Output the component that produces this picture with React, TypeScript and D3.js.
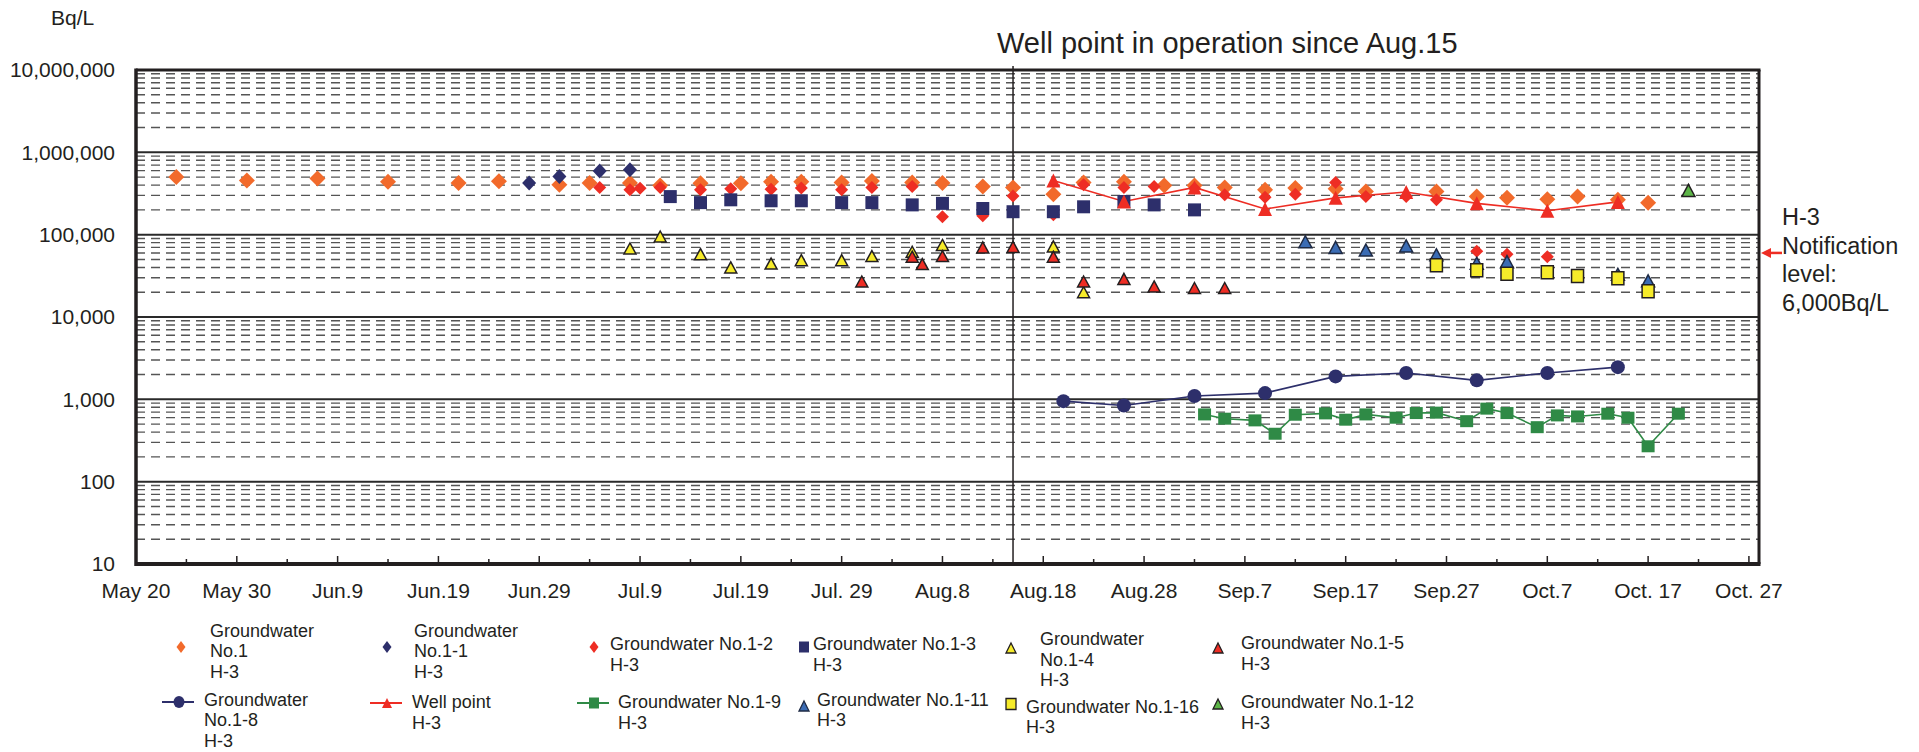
import React from "react";
import * as d3 from "d3";

type Pt = [string, number];

// Groundwater No.1 H-3 (Bq/L)
const gw1: Pt[] = [
  ["2013-05-24", 500000], ["2013-05-31", 455000], ["2013-06-07", 480000], ["2013-06-14", 440000],
  ["2013-06-21", 425000], ["2013-06-25", 445000], ["2013-07-01", 405000], ["2013-07-04", 425000],
  ["2013-07-08", 425000], ["2013-07-11", 395000], ["2013-07-15", 420000], ["2013-07-19", 420000],
  ["2013-07-22", 440000], ["2013-07-25", 440000], ["2013-07-29", 430000], ["2013-08-01", 450000],
  ["2013-08-05", 430000], ["2013-08-08", 425000], ["2013-08-12", 385000], ["2013-08-15", 375000],
  ["2013-08-19", 310000], ["2013-08-22", 430000], ["2013-08-26", 440000], ["2013-08-30", 395000],
  ["2013-09-02", 395000], ["2013-09-05", 375000], ["2013-09-09", 350000], ["2013-09-12", 370000],
  ["2013-09-16", 360000], ["2013-09-19", 335000], ["2013-09-26", 335000], ["2013-09-30", 290000],
  ["2013-10-03", 280000], ["2013-10-07", 270000], ["2013-10-10", 290000], ["2013-10-14", 265000],
  ["2013-10-17", 245000],
];
const gw1_1: Pt[] = [
  ["2013-06-28", 425000], ["2013-07-01", 510000], ["2013-07-05", 595000], ["2013-07-08", 615000],
];
const gw1_2: Pt[] = [
  ["2013-07-05", 375000], ["2013-07-08", 350000], ["2013-07-09", 365000], ["2013-07-11", 375000],
  ["2013-07-15", 350000], ["2013-07-18", 360000], ["2013-07-22", 355000], ["2013-07-25", 370000],
  ["2013-07-29", 350000], ["2013-08-01", 375000], ["2013-08-05", 385000], ["2013-08-08", 165000],
  ["2013-08-12", 170000], ["2013-08-15", 295000], ["2013-08-19", 175000], ["2013-08-22", 405000],
  ["2013-08-26", 375000], ["2013-08-29", 385000], ["2013-09-02", 365000], ["2013-09-05", 305000],
  ["2013-09-09", 285000], ["2013-09-12", 310000], ["2013-09-16", 430000], ["2013-09-19", 290000],
  ["2013-09-23", 290000], ["2013-09-26", 265000], ["2013-09-30", 63000], ["2013-10-03", 58000],
  ["2013-10-07", 54000],
];
const gw1_3: Pt[] = [
  ["2013-07-12", 290000], ["2013-07-15", 245000], ["2013-07-18", 265000], ["2013-07-22", 258000],
  ["2013-07-25", 258000], ["2013-07-29", 245000], ["2013-08-01", 245000], ["2013-08-05", 230000],
  ["2013-08-08", 240000], ["2013-08-12", 208000], ["2013-08-15", 190000], ["2013-08-19", 190000],
  ["2013-08-22", 218000], ["2013-08-26", 253000], ["2013-08-29", 230000], ["2013-09-02", 200000],
];
const gw1_4: Pt[] = [
  ["2013-07-08", 68000], ["2013-07-11", 95000], ["2013-07-15", 58000], ["2013-07-18", 40000],
  ["2013-07-22", 44500], ["2013-07-25", 49000], ["2013-07-29", 49000], ["2013-08-01", 55000],
  ["2013-08-05", 62000], ["2013-08-08", 75000], ["2013-08-19", 72000], ["2013-08-22", 20000],
];
const gw1_5: Pt[] = [
  ["2013-07-31", 27000], ["2013-08-05", 54000], ["2013-08-06", 44000], ["2013-08-08", 55000],
  ["2013-08-12", 70000], ["2013-08-15", 71000], ["2013-08-19", 54000], ["2013-08-22", 27000],
  ["2013-08-26", 29000], ["2013-08-29", 23500], ["2013-09-02", 22500], ["2013-09-05", 22500],
];
const gw1_8: Pt[] = [
  ["2013-08-20", 950], ["2013-08-26", 840], ["2013-09-02", 1100], ["2013-09-09", 1190],
  ["2013-09-16", 1900], ["2013-09-23", 2090], ["2013-09-30", 1700], ["2013-10-07", 2090],
  ["2013-10-14", 2460],
];
const wellPoint: Pt[] = [
  ["2013-08-19", 455000], ["2013-08-26", 253000], ["2013-09-02", 375000], ["2013-09-09", 205000],
  ["2013-09-16", 280000], ["2013-09-23", 330000], ["2013-09-30", 240000], ["2013-10-07", 195000],
  ["2013-10-14", 250000],
];
const gw1_9: Pt[] = [
  ["2013-09-03", 656], ["2013-09-05", 582], ["2013-09-08", 555], ["2013-09-10", 382],
  ["2013-09-12", 650], ["2013-09-15", 675], ["2013-09-17", 566], ["2013-09-19", 656],
  ["2013-09-22", 598], ["2013-09-24", 681], ["2013-09-26", 689], ["2013-09-29", 543],
  ["2013-10-01", 771], ["2013-10-03", 681], ["2013-10-06", 459], ["2013-10-08", 638],
  ["2013-10-10", 620], ["2013-10-13", 669], ["2013-10-15", 598], ["2013-10-17", 269],
  ["2013-10-20", 669],
];
const gw1_11: Pt[] = [
  ["2013-09-13", 82000], ["2013-09-16", 70000], ["2013-09-19", 65000], ["2013-09-23", 73000],
  ["2013-09-26", 57000], ["2013-09-30", 45000], ["2013-10-03", 47000], ["2013-10-14", 33000],
  ["2013-10-17", 27500],
];
const gw1_16: Pt[] = [
  ["2013-09-26", 42500], ["2013-09-30", 37000], ["2013-10-03", 33500], ["2013-10-07", 35000],
  ["2013-10-10", 31500], ["2013-10-14", 29500], ["2013-10-17", 20500],
];
const gw1_12: Pt[] = [["2013-10-21", 345000]];

const xStart = "2013-05-20";
const xEnd = "2013-10-28";
const xTickLabels = [
  "May 20", "May 30", "Jun.9", "Jun.19", "Jun.29", "Jul.9", "Jul.19", "Jul. 29", "Aug.8",
  "Aug.18", "Aug.28", "Sep.7", "Sep.17", "Sep.27", "Oct.7", "Oct. 17", "Oct. 27",
];
const yTickValues = [10, 100, 1000, 10000, 100000, 1000000, 10000000];
const yTickLabels = ["10", "100", "1,000", "10,000", "100,000", "1,000,000", "10,000,000"];
const wellStart = "2013-08-15";
const notifyLevel = 60000;

const FONT = "'Liberation Sans', Arial, Helvetica, sans-serif";
const TXT = "#231f20";

type Shape = "diamond" | "square" | "triangle" | "circle";

function markerPath(shape: Shape, w: number, h: number) {
  const a = w / 2, b = h / 2;
  if (shape === "diamond") return `M0,${-b}L${a},0L0,${b}L${-a},0Z`;
  if (shape === "square") return `M${-a},${-b}h${w}v${h}h${-w}Z`;
  if (shape === "triangle") return `M0,${-b}L${a},${b}L${-a},${b}Z`;
  return `M${-a},0a${a},${b} 0 1,0 ${w},0a${a},${b} 0 1,0 ${-w},0Z`;
}

const series = [
  { key: "gw1", data: gw1, shape: "diamond" as Shape, w: 16, h: 16, fill: "#f26a2b", stroke: "none",
    label: ["Groundwater", "No.1", "H-3"], leg: [181, 647, 210, 636.5] },
  { key: "gw1_1", data: gw1_1, shape: "diamond" as Shape, w: 14, h: 15, fill: "#2d2f6b", stroke: "none",
    label: ["Groundwater", "No.1-1", "H-3"], leg: [387, 647, 414, 636.5] },
  { key: "gw1_2", data: gw1_2, shape: "diamond" as Shape, w: 13, h: 13, fill: "#ee2d24", stroke: "none",
    label: ["Groundwater No.1-2", "H-3"], leg: [594, 647, 610, 650] },
  { key: "gw1_3", data: gw1_3, shape: "square" as Shape, w: 13, h: 13, fill: "#2d2f6b", stroke: "none",
    label: ["Groundwater No.1-3", "H-3"], leg: [804, 647, 813, 650] },
  { key: "gw1_4", data: gw1_4, shape: "triangle" as Shape, w: 12, h: 11, fill: "#f6eb2a", stroke: "#231f20",
    label: ["Groundwater", "No.1-4", "H-3"], leg: [1011, 648, 1040, 645] },
  { key: "gw1_5", data: gw1_5, shape: "triangle" as Shape, w: 12, h: 11, fill: "#ee2d24", stroke: "#231f20",
    label: ["Groundwater No.1-5", "H-3"], leg: [1218, 648, 1241, 649] },
  { key: "gw1_8", data: gw1_8, shape: "circle" as Shape, w: 14, h: 14, fill: "#2d2f6b", stroke: "none",
    line: "#2d2f6b", label: ["Groundwater", "No.1-8", "H-3"], leg: [179, 702, 204, 705.5] },
  { key: "well", data: wellPoint, shape: "triangle" as Shape, w: 14, h: 14, fill: "#ee2d24", stroke: "none",
    line: "#ee2d24", label: ["Well point", "H-3"], leg: [387, 703, 412, 708] },
  { key: "gw1_9", data: gw1_9, shape: "square" as Shape, w: 13, h: 12, fill: "#2f8a46", stroke: "none",
    line: "#2f8a46", label: ["Groundwater No.1-9", "H-3"], leg: [594, 703, 618, 708] },
  { key: "gw1_11", data: gw1_11, shape: "triangle" as Shape, w: 13, h: 12, fill: "#3b6cb4", stroke: "#1e2a44",
    label: ["Groundwater No.1-11", "H-3"], leg: [804, 706, 817, 705.5] },
  { key: "gw1_16", data: gw1_16, shape: "square" as Shape, w: 12, h: 13, fill: "#f6eb2a", stroke: "#231f20",
    label: ["Groundwater No.1-16", "H-3"], leg: [1011, 704, 1026, 712.5] },
  { key: "gw1_12", data: gw1_12, shape: "triangle" as Shape, w: 13, h: 12, fill: "#5db548", stroke: "#231f20",
    label: ["Groundwater No.1-12", "H-3"], leg: [1218, 704, 1241, 708] },
];

export default function App() {
  const parse = d3.utcParse("%Y-%m-%d");
  const left = 136, right = 1759, top = 70, bottom = 564;
  const x = d3.scaleUtc().domain([parse(xStart)!, parse(xEnd)!]).range([left, right]);
  const y = d3.scaleLog().domain([10, 1e7]).range([bottom, top]);

  const minor: number[] = [];
  for (let p = 1; p < 7; p++) for (let k = 2; k <= 9; k++) minor.push(k * Math.pow(10, p));

  const start = parse(xStart)!;
  const ticks = d3.range(0, 161, 5).map((d) => ({ d, date: d3.utcDay.offset(start, d) }));

  const line = d3
    .line<Pt>()
    .x((d) => x(parse(d[0])!))
    .y((d) => y(d[1]));

  const xWell = x(parse(wellStart)!);
  const yNotify = y(notifyLevel);

  return (
    <svg width={1919} height={752} style={{ position: "absolute", left: 0, top: 0, display: "block", background: "#fff" }}
      fontFamily={FONT}>
      {/* minor dashed grid */}
      {minor.map((v) => (
        <line key={"m" + v} x1={left} x2={right} y1={y(v)} y2={y(v)} stroke="#555" strokeWidth={1.4}
          strokeDasharray="9,6" />
      ))}
      {/* major decade lines */}
      {yTickValues.slice(1, -1).map((v) => (
        <line key={"M" + v} x1={left} x2={right} y1={y(v)} y2={y(v)} stroke="#2a2a2a" strokeWidth={2} />
      ))}
      {/* x ticks */}
      {ticks.map((t) => (
        <line key={"t" + t.d} x1={x(t.date)} x2={x(t.date)} y1={bottom} y2={bottom - (t.d % 10 === 0 ? 8 : 5)}
          stroke="#231f20" strokeWidth={1.5} />
      ))}
      {/* well point start line */}
      <line x1={xWell} x2={xWell} y1={top - 4} y2={bottom} stroke="#231f20" strokeWidth={1.5} />
      {/* frame */}
      <line x1={left} x2={right + 1.5} y1={top} y2={top} stroke="#231f20" strokeWidth={3} />
      <line x1={right} x2={right} y1={top} y2={bottom} stroke="#231f20" strokeWidth={3} />
      <line x1={left} x2={right + 1.5} y1={bottom} y2={bottom} stroke="#231f20" strokeWidth={4} />
      <line x1={left} x2={left} y1={top - 1.5} y2={bottom + 2} stroke="#231f20" strokeWidth={3.5} />

      {/* series lines */}
      {series.filter((s) => s.line).map((s) => (
        <path key={"l" + s.key} d={line(s.data) || ""} fill="none" stroke={s.line} strokeWidth={1.6} />
      ))}
      {/* series markers */}
      {series.map((s) => (
        <g key={s.key}>
          {s.data.map((d, i) => (
            <path key={i} transform={`translate(${x(parse(d[0])!)},${y(d[1])})`}
              d={markerPath(s.shape, s.w, s.h)} fill={s.fill} stroke={s.stroke}
              strokeWidth={s.stroke === "none" ? 0 : 1.5} strokeLinejoin="miter" />
          ))}
        </g>
      ))}

      {/* y tick labels */}
      {yTickValues.map((v, i) => (
        <text key={"y" + v} x={115} y={y(v)} dy="0.35em" textAnchor="end" fontSize={21} fill={TXT}>
          {yTickLabels[i]}
        </text>
      ))}
      <text x={51} y={25} fontSize={21} fill={TXT}>Bq/L</text>

      {/* x tick labels */}
      {ticks.filter((t) => t.d % 10 === 0).map((t, i) => (
        <text key={"xl" + t.d} x={x(t.date)} y={598} textAnchor="middle" fontSize={21} fill={TXT}>
          {xTickLabels[i]}
        </text>
      ))}

      {/* title */}
      <text x={997} y={53} fontSize={29} fill={TXT}>Well point in operation since Aug.15</text>

      {/* notification level annotation */}
      <line x1={1769} x2={1782} y1={yNotify} y2={yNotify} stroke="#ee2d24" strokeWidth={2.5} />
      <path d={`M1761,${yNotify}L1771,${yNotify - 5}L1771,${yNotify + 5}Z`} fill="#ee2d24" />
      {["H-3", "Notification", "level:", "6,000Bq/L"].map((t, i) => (
        <text key={t} x={1782} y={225 + i * 28.6} fontSize={23.5} fill={TXT}>{t}</text>
      ))}

      {/* legend */}
      {series.map((s) => {
        const [mx, my, tx, ty] = s.leg;
        const lw = s.shape === "circle" ? 11 : s.shape === "diamond" ? 9 : 10;
        const lh = s.shape === "circle" ? 12 : s.shape === "diamond" ? 12 : s.shape === "square" ? 11 : 10;
        return (
          <g key={"lg" + s.key}>
            {s.line && (
              <line x1={mx - 17} x2={mx + 15} y1={my} y2={my} stroke={s.line} strokeWidth={2} />
            )}
            <path transform={`translate(${mx},${my})`} d={markerPath(s.shape, lw, lh)} fill={s.fill}
              stroke={s.stroke} strokeWidth={s.stroke === "none" ? 0 : 1.3} />
            {s.label.map((t, i) => (
              <text key={i} x={tx} y={ty + i * 20.5} fontSize={18} fill={TXT}>{t}</text>
            ))}
          </g>
        );
      })}
    </svg>
  );
}
